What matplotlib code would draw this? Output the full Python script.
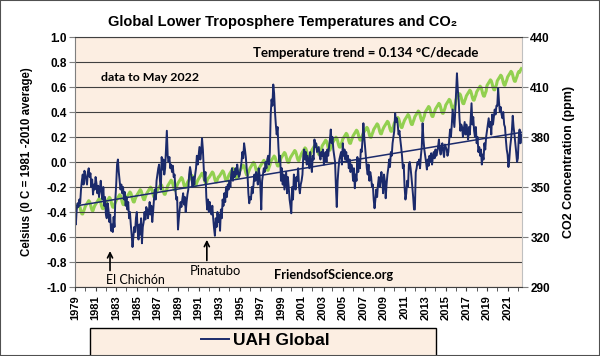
import numpy as np
import matplotlib
matplotlib.use("Agg")
import matplotlib.pyplot as plt
from matplotlib.patches import Rectangle
from matplotlib.ticker import MultipleLocator

# UAH global lower troposphere anomaly (deg C), monthly from Jan 1979
uah_global = [
    -0.45, -0.50, -0.38, -0.33, -0.36, -0.30, -0.33, -0.22, -0.15, -0.10, -0.18, -0.07,  # 1979
    -0.10, -0.14, -0.18, -0.08, -0.05, -0.12, -0.09, -0.20, -0.14, -0.26, -0.18, -0.22,  # 1980
    -0.12, -0.17, -0.25, -0.19, -0.28, -0.22, -0.15, -0.24, -0.30, -0.20, -0.35, -0.28,  # 1981
    -0.42, -0.45, -0.33, -0.38, -0.48, -0.42, -0.55, -0.50, -0.56, -0.44, -0.52, -0.30,  # 1982
    -0.18, -0.02, 0.02, -0.08, -0.15, -0.22, -0.18, -0.25, -0.20, -0.30, -0.24, -0.35,   # 1983
    -0.28, -0.38, -0.32, -0.45, -0.40, -0.50, -0.58, -0.68, -0.60, -0.52, -0.56, -0.45,  # 1984
    -0.40, -0.55, -0.62, -0.50, -0.58, -0.45, -0.65, -0.52, -0.48, -0.40, -0.46, -0.36,  # 1985
    -0.38, -0.45, -0.40, -0.32, -0.42, -0.35, -0.48, -0.40, -0.30, -0.22, -0.30, -0.15,  # 1986
    -0.10, -0.05, -0.02, -0.15, -0.22, 0.04, -0.06, 0.02, -0.10, -0.05, 0.10, 0.25,      # 1987
    0.05, 0.00, 0.04, -0.05, -0.02, -0.08, -0.03, -0.12, -0.10, -0.22, -0.30, -0.28,     # 1988
    -0.54, -0.45, -0.38, -0.32, -0.36, -0.30, -0.25, -0.34, -0.28, -0.40, -0.32, -0.26,  # 1989
    -0.22, -0.10, -0.04, -0.08, -0.15, -0.20, -0.12, -0.18, -0.10, -0.05, 0.05, -0.02,   # 1990
    0.05, 0.12, 0.02, 0.08, 0.19, 0.10, -0.05, -0.15, -0.08, -0.28, -0.38, -0.30,        # 1991
    -0.40, -0.32, -0.38, -0.42, -0.35, -0.45, -0.53, -0.59, -0.45, -0.52, -0.40, -0.48,  # 1992
    -0.42, -0.55, -0.38, -0.45, -0.30, -0.35, -0.25, -0.32, -0.20, -0.28, -0.18, -0.22,  # 1993
    -0.15, -0.20, -0.10, -0.05, -0.15, -0.08, -0.12, -0.05, -0.10, -0.02, -0.08, -0.12,  # 1994
    -0.10, -0.05, 0.00, 0.08, 0.03, 0.15, 0.10, 0.04, -0.05, -0.10, -0.25, -0.33,        # 1995
    -0.28, -0.30, -0.20, -0.25, -0.18, -0.10, -0.15, -0.08, -0.12, -0.18, -0.05, -0.10,  # 1996
    -0.20, -0.38, -0.15, -0.10, -0.05, -0.08, 0.00, -0.05, 0.02, 0.05, -0.02, 0.08,      # 1997
    0.38, 0.50, 0.45, 0.62, 0.55, 0.40, 0.30, 0.22, 0.28, 0.12, 0.00, 0.05,              # 1998
    -0.15, -0.05, -0.18, -0.10, -0.22, -0.15, -0.08, -0.25, -0.12, -0.20, -0.30, -0.35,  # 1999
    -0.41, -0.20, -0.30, -0.10, -0.15, -0.22, -0.12, -0.15, -0.05, -0.20, -0.25, -0.18,  # 2000
    -0.15, -0.10, 0.05, 0.10, 0.02, 0.08, -0.02, 0.05, 0.00, -0.05, 0.08, -0.02,         # 2001
    -0.08, 0.05, 0.02, 0.18, 0.12, 0.15, 0.08, 0.10, 0.12, 0.05, 0.02, 0.08,             # 2002
    0.05, 0.10, -0.02, 0.02, 0.08, 0.00, 0.10, 0.05, 0.12, 0.18, 0.26, 0.15,             # 2003
    0.20, 0.10, 0.05, 0.00, -0.20, -0.36, -0.15, -0.05, 0.02, 0.05, 0.08, -0.02,         # 2004
    0.15, 0.05, 0.10, 0.02, 0.08, 0.00, 0.05, -0.05, 0.02, -0.08, -0.02, -0.05,          # 2005
    -0.15, -0.05, -0.21, -0.10, -0.15, 0.04, -0.08, 0.02, -0.05, 0.10, 0.08, 0.18,       # 2006
    0.31, 0.20, 0.12, 0.05, -0.05, -0.10, -0.02, -0.15, -0.08, -0.12, -0.20, -0.18,      # 2007
    -0.30, -0.37, -0.30, -0.22, -0.28, -0.18, -0.12, -0.20, -0.15, -0.08, -0.15, -0.25,  # 2008
    -0.10, -0.15, -0.29, -0.18, -0.10, -0.05, 0.02, -0.04, 0.08, 0.05, 0.15, 0.20,       # 2009
    0.25, 0.39, 0.32, 0.35, 0.30, 0.22, 0.25, 0.18, 0.12, 0.05, -0.05, -0.02,            # 2010
    -0.20, -0.30, -0.25, -0.15, -0.20, -0.02, 0.00, -0.05, -0.12, -0.20, -0.28, -0.38,   # 2011
    -0.38, -0.08, -0.05, 0.00, -0.02, 0.02, -0.05, 0.05, 0.12, 0.31, 0.18, 0.10,         # 2012
    0.05, 0.00, -0.06, 0.02, -0.03, 0.05, 0.00, 0.07, -0.02, 0.04, 0.08, 0.03,           # 2013
    0.10, 0.05, 0.08, 0.12, 0.18, 0.10, 0.06, 0.12, 0.15, 0.08, 0.04, 0.14,              # 2014
    0.12, 0.10, 0.05, 0.08, 0.18, 0.26, 0.20, 0.30, 0.42, 0.35, 0.28, 0.40,              # 2015
    0.55, 0.71, 0.58, 0.50, 0.35, 0.25, 0.30, 0.28, 0.20, 0.26, 0.32, 0.22,              # 2016
    0.30, 0.25, 0.18, 0.28, 0.22, 0.35, 0.47, 0.30, 0.36, 0.25, 0.20, 0.28,              # 2017
    0.15, 0.20, 0.08, 0.12, 0.05, 0.10, -0.02, 0.06, 0.02, 0.15, 0.10, 0.20,             # 2018
    0.25, 0.30, 0.35, 0.28, 0.32, 0.22, 0.38, 0.30, 0.36, 0.42, 0.38, 0.45,              # 2019
    0.45, 0.59, 0.48, 0.40, 0.44, 0.38, 0.35, 0.40, 0.30, 0.28, 0.18, 0.10,              # 2020
    0.06, -0.04, 0.02, 0.12, 0.18, 0.25, 0.37, 0.28, 0.22, 0.15, 0.08, 0.00,             # 2021
    0.03, 0.20, 0.26, 0.15, 0.22,                                                        # 2022 (to May)
]

# Mauna Loa CO2 (ppm), monthly from Jan 1979
co2_ppm = [
    336.4, 337.2, 338.0, 338.9, 339.8, 339.2, 337.5, 335.3, 333.9, 333.8, 335.5, 336.8,  # 1979
    338.4, 339.2, 340.0, 340.9, 341.8, 341.2, 339.5, 337.3, 335.9, 335.8, 337.5, 338.8,  # 1980
    339.6, 340.4, 341.2, 342.1, 343.0, 342.4, 340.7, 338.5, 337.1, 337.0, 338.7, 340.0,  # 1981
    340.4, 341.2, 342.0, 342.9, 343.8, 343.2, 341.5, 339.3, 337.9, 337.8, 339.5, 340.8,  # 1982
    342.0, 342.8, 343.6, 344.5, 345.4, 344.8, 343.1, 340.9, 339.5, 339.4, 341.1, 342.4,  # 1983
    343.6, 344.4, 345.2, 346.1, 347.0, 346.4, 344.7, 342.5, 341.1, 341.0, 342.7, 344.0,  # 1984
    345.0, 345.8, 346.6, 347.5, 348.4, 347.8, 346.1, 343.9, 342.5, 342.4, 344.1, 345.4,  # 1985
    346.5, 347.3, 348.1, 349.0, 349.9, 349.3, 347.6, 345.4, 344.0, 343.9, 345.6, 346.9,  # 1986
    348.2, 349.0, 349.8, 350.7, 351.6, 351.0, 349.3, 347.1, 345.7, 345.6, 347.3, 348.6,  # 1987
    350.7, 351.5, 352.3, 353.2, 354.1, 353.5, 351.8, 349.6, 348.2, 348.1, 349.8, 351.1,  # 1988
    352.3, 353.1, 353.9, 354.8, 355.7, 355.1, 353.4, 351.2, 349.8, 349.7, 351.4, 352.7,  # 1989
    353.6, 354.4, 355.2, 356.1, 357.0, 356.4, 354.7, 352.5, 351.1, 351.0, 352.7, 354.0,  # 1990
    354.9, 355.7, 356.5, 357.4, 358.3, 357.7, 356.0, 353.8, 352.4, 352.3, 354.0, 355.3,  # 1991
    355.6, 356.4, 357.2, 358.1, 359.0, 358.4, 356.7, 354.5, 353.1, 353.0, 354.7, 356.0,  # 1992
    356.3, 357.1, 357.9, 358.8, 359.7, 359.1, 357.4, 355.2, 353.8, 353.7, 355.4, 356.7,  # 1993
    357.8, 358.6, 359.4, 360.3, 361.2, 360.6, 358.9, 356.7, 355.3, 355.2, 356.9, 358.2,  # 1994
    359.7, 360.5, 361.3, 362.2, 363.1, 362.5, 360.8, 358.6, 357.2, 357.1, 358.8, 360.1,  # 1995
    361.4, 362.2, 363.0, 363.9, 364.8, 364.2, 362.5, 360.3, 358.9, 358.8, 360.5, 361.8,  # 1996
    362.6, 363.4, 364.2, 365.1, 366.0, 365.4, 363.7, 361.5, 360.1, 360.0, 361.7, 363.0,  # 1997
    365.2, 366.0, 366.8, 367.7, 368.6, 368.0, 366.3, 364.1, 362.7, 362.6, 364.3, 365.6,  # 1998
    367.3, 368.1, 368.9, 369.8, 370.7, 370.1, 368.4, 366.2, 364.8, 364.7, 366.4, 367.7,  # 1999
    368.5, 369.3, 370.1, 371.0, 371.9, 371.3, 369.6, 367.4, 366.0, 365.9, 367.6, 368.9,  # 2000
    370.1, 370.9, 371.7, 372.6, 373.5, 372.9, 371.2, 369.0, 367.6, 367.5, 369.2, 370.5,  # 2001
    372.1, 372.9, 373.7, 374.6, 375.5, 374.9, 373.2, 371.0, 369.6, 369.5, 371.2, 372.5,  # 2002
    374.7, 375.5, 376.3, 377.2, 378.1, 377.5, 375.8, 373.6, 372.2, 372.1, 373.8, 375.1,  # 2003
    376.5, 377.3, 378.1, 379.0, 379.9, 379.3, 377.6, 375.4, 374.0, 373.9, 375.6, 376.9,  # 2004
    378.8, 379.6, 380.4, 381.3, 382.2, 381.6, 379.9, 377.7, 376.3, 376.2, 377.9, 379.2,  # 2005
    380.7, 381.5, 382.3, 383.2, 384.1, 383.5, 381.8, 379.6, 378.2, 378.1, 379.8, 381.1,  # 2006
    382.4, 383.2, 384.0, 384.9, 385.8, 385.2, 383.5, 381.3, 379.9, 379.8, 381.5, 382.8,  # 2007
    384.5, 385.3, 386.1, 387.0, 387.9, 387.3, 385.6, 383.4, 382.0, 381.9, 383.6, 384.9,  # 2008
    386.0, 386.8, 387.6, 388.5, 389.4, 388.8, 387.1, 384.9, 383.5, 383.4, 385.1, 386.4,  # 2009
    388.3, 389.1, 389.9, 390.8, 391.7, 391.1, 389.4, 387.2, 385.8, 385.7, 387.4, 388.7,  # 2010
    390.1, 390.9, 391.7, 392.6, 393.5, 392.9, 391.2, 389.0, 387.6, 387.5, 389.2, 390.5,  # 2011
    392.2, 393.0, 393.8, 394.7, 395.6, 395.0, 393.3, 391.1, 389.7, 389.6, 391.3, 392.6,  # 2012
    394.9, 395.7, 396.5, 397.4, 398.3, 397.7, 396.0, 393.8, 392.4, 392.3, 394.0, 395.3,  # 2013
    396.8, 397.6, 398.4, 399.3, 400.2, 399.6, 397.9, 395.7, 394.3, 394.2, 395.9, 397.2,  # 2014
    399.2, 400.0, 400.8, 401.7, 402.6, 402.0, 400.3, 398.1, 396.7, 396.6, 398.3, 399.6,  # 2015
    402.6, 403.4, 404.2, 405.1, 406.0, 405.4, 403.7, 401.5, 400.1, 400.0, 401.7, 403.0,  # 2016
    404.7, 405.5, 406.3, 407.2, 408.1, 407.5, 405.8, 403.6, 402.2, 402.1, 403.8, 405.1,  # 2017
    407.1, 407.9, 408.7, 409.6, 410.5, 409.9, 408.2, 406.0, 404.6, 404.5, 406.2, 407.5,  # 2018
    410.9, 411.7, 412.5, 413.4, 414.3, 413.7, 412.0, 409.8, 408.4, 408.3, 410.0, 411.3,  # 2019
    413.7, 414.5, 415.3, 416.2, 417.1, 416.5, 414.8, 412.6, 411.2, 411.1, 412.8, 414.1,  # 2020
    416.0, 416.8, 417.6, 418.5, 419.4, 418.8, 417.1, 414.9, 413.5, 413.4, 415.1, 416.4,  # 2021
    418.2, 419.3, 418.8, 420.2, 421.0,                                                   # 2022
]

start_year = 1979
temp_ticks = [-1.0, -0.8, -0.6, -0.4, -0.2, 0.0, 0.2, 0.4, 0.6, 0.8, 1.0]
co2_ticks = [290, 320, 350, 380, 410, 440]
year_ticks = list(range(1979, 2022, 2))

peach = '#FCEEE2'
navy = '#1B2A6B'
green = '#92D050'

plt.rcParams['font.family'] = ['Liberation Sans', 'DejaVu Sans']

months = start_year + np.arange(len(uah_global)) / 12.0
co2_months = start_year + np.arange(len(co2_ppm)) / 12.0

fig = plt.figure(figsize=(6, 3.56), dpi=100)
ax = fig.add_axes([0.125, 0.1938, 0.745, 0.7022])
ax2 = ax.twinx()
ax.set_zorder(ax2.get_zorder() + 1)
ax.patch.set_visible(False)
ax2.patch.set_visible(True)
ax2.patch.set_facecolor(peach)

# CO2 on the right axis
ax2.plot(co2_months, co2_ppm, color=green, linewidth=2.2)
ax2.set_ylim(290, 440)
ax2.set_yticks(co2_ticks)
ax2.tick_params(axis='y', labelsize=8.5, length=4, color='#7f7f7f', pad=2)
for lab in ax2.get_yticklabels():
    lab.set_fontweight('bold')
ax2.set_ylabel('CO2 Concentration (ppm)', fontsize=9, fontweight='bold')
ax2.yaxis.set_label_coords(1.092, 0.5)
for s in ax2.spines.values():
    s.set_visible(False)

# temperature and its linear trend
line, = ax.plot(months, uah_global, color=navy, linewidth=1.4, label='UAH Global')
slope, intercept = np.polyfit(months, uah_global, 1)
trend_x = np.array([start_year, months[-1]])
ax.plot(trend_x, slope * trend_x + intercept, color=navy, linewidth=1.1)

ax.set_xlim(1979, 2022.4)
ax.set_ylim(-1, 1)
ax.set_yticks(temp_ticks, labels=[f'{t:.1f}' for t in temp_ticks])
ax.set_xticks(year_ticks, labels=[str(y) for y in year_ticks])
ax.xaxis.set_minor_locator(MultipleLocator(1))
ax.tick_params(axis='x', which='both', rotation=90, labelsize=8, length=3, color='#404040', pad=3)
ax.tick_params(axis='y', labelsize=8.5, length=4, color='#7f7f7f', pad=2)
for lab in ax.get_yticklabels() + ax.get_xticklabels():
    lab.set_fontweight('bold')
ax.grid(axis='y', color='#404040', linewidth=0.8)
ax.set_ylabel('Celsius (0 C = 1981 -2010 average)', fontsize=8.3, fontweight='bold')
ax.yaxis.set_label_coords(-0.094, 0.5)
ax.spines['left'].set_color('#7f7f7f')
ax.spines['bottom'].set_color('#404040')
ax.spines['top'].set_color('#404040')
ax.spines['right'].set_color('#c0c0c0')

ax.set_title('Global Lower Troposphere Temperatures and CO\u2082', fontsize=10.5,
             fontweight='bold', x=0.465, pad=8)

note_font = dict(family=['Lato', 'DejaVu Sans'], fontweight='bold')
ax.text(2007.25, 0.87, 'Temperature trend = 0.134 \u00b0C/decade', ha='center', va='center',
        fontsize=9.5, **note_font)
ax.text(1986.3, 0.68, 'data to May 2022', ha='center', va='center', fontsize=8.9, **note_font)
ax.text(2004.1, -0.90, 'FriendsofScience.org', ha='center', va='center', fontsize=9.2, **note_font)

arrow = dict(arrowstyle='->', color='black', lw=1.2, mutation_scale=9)
ax.annotate('', xy=(1982.4, -0.69), xytext=(1982.4, -0.89), arrowprops=arrow)
ax.annotate('', xy=(1991.8, -0.60), xytext=(1991.8, -0.81), arrowprops=arrow)
ax.text(1984.9, -0.94, 'El Chich\u00f3n', ha='center', va='center',
        family=['Lato', 'DejaVu Sans'], fontsize=9)
ax.text(1992.6, -0.87, 'Pinatubo', ha='center', va='center',
        family=['Lato', 'DejaVu Sans'], fontsize=9.4)

# legend box at the bottom, cut by the image edge
fig.patches.append(Rectangle((90 / 600, -0.05), 346 / 600, 28 / 356 + 0.05,
                             transform=fig.transFigure, facecolor=peach,
                             edgecolor='black', linewidth=1.0))
fig.legend(handles=[line], loc='center', bbox_to_anchor=(0.442, 0.043), frameon=False,
           prop=dict(size=12.5, weight='bold'), handlelength=1.6, handletextpad=0.2)

# outer border of the picture
fig.patches.append(Rectangle((0, 0), 1, 1, transform=fig.transFigure, fill=False,
                             edgecolor='#505050', linewidth=1.5))

fig.savefig('out.png', dpi=100)
